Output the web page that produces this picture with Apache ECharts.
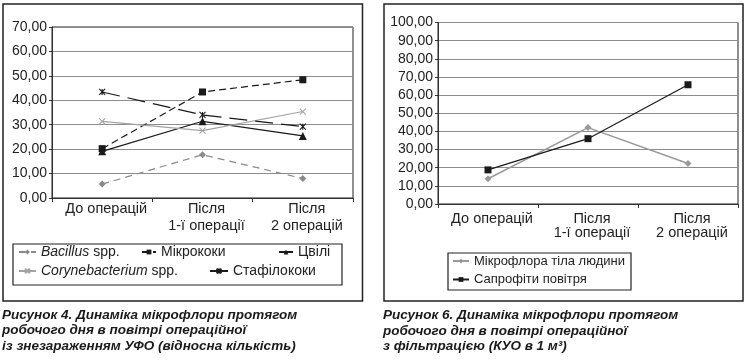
<!DOCTYPE html>
<html>
<head>
<meta charset="utf-8">
<script src="https://cdn.jsdelivr.net/npm/echarts@6/dist/echarts.min.js"></script>
<style>
html,body{margin:0;padding:0;background:#fff;}
#c{width:746px;height:361px;}
</style>
</head>
<body>
<div id="c"></div>
<script>
// ---- data ----
const categories = ['До операцій', 'Після\n1-ї операції', 'Після\n2 операцій'];
const bacillus = [5.7, 17.7, 8.0];
const mikrokoky = [20.2, 43.4, 48.4];
const tsvili = [19.1, 31.4, 25.4];
const corynebacterium = [31.4, 27.6, 35.4];
const stafilokoky = [43.4, 34.0, 29.2];
const humanFlora = [13.9, 42.1, 22.3];
const airSaprophytes = [18.8, 36.0, 65.7];
const leftYTicks = [0, 10, 20, 30, 40, 50, 60, 70];
const rightYTicks = [0, 10, 20, 30, 40, 50, 60, 70, 80, 90, 100];
const caption4 = 'Рисунок 4. Динаміка мікрофлори протягом\nробочого дня в повітрі операційної\nіз знезараженням УФО (відносна кількість)';
const caption6 = 'Рисунок 6. Динаміка мікрофлори протягом\nробочого дня в повітрі операційної\nз фільтрацією (КУО в 1 м³)';

const FONT = '"Liberation Sans", Arial, sans-serif';
const TXT = '#222';
const BLACK = '#1a1a1a';
const fmt = v => v.toFixed(2).replace('.', ',');
const X_PATH = 'path://M0,0L10,10M10,0L0,10';
const AST_PATH = 'path://M0,0L10,10M10,0L0,10M5,0L5,10';

const chart = echarts.init(document.getElementById('c'), null, {renderer: 'canvas'});

function yAxis(gi, ticks, size) {
  return {
    type: 'value', gridIndex: gi,
    min: ticks[0], max: ticks[ticks.length - 1], interval: ticks[1] - ticks[0],
    axisLine: {show: true, lineStyle: {color: '#333', width: 1}},
    axisTick: {show: true, length: 3, lineStyle: {color: '#333'}},
    axisLabel: {formatter: fmt, color: TXT, fontSize: size, fontFamily: FONT, margin: 5},
    splitLine: {show: true, lineStyle: {color: '#8c8c8c', width: 1}}
  };
}
function xAxis(gi, lh, margin) {
  return {
    type: 'category', gridIndex: gi, data: categories, boundaryGap: true,
    axisLine: {show: true, lineStyle: {color: '#333', width: 1}},
    axisTick: {show: true, length: 4, lineStyle: {color: '#333'}},
    axisLabel: {color: TXT, fontSize: 14.5, fontFamily: FONT, lineHeight: lh, margin: margin, padding: [0, 0, 0, 8], interval: 0}
  };
}

function legendItem(name, left, top, w, size) {
  return {
    data: [name], left: left, top: top, padding: 0,
    itemWidth: w, itemHeight: 6,
    textStyle: {color: TXT, fontSize: size, fontFamily: FONT,
      rich: {i: {fontStyle: 'italic', fontSize: size, fontFamily: FONT, color: TXT}}},
    formatter: function (n) {
      if (n === 'Bacillus spp.') return '{i|Bacillus} spp.';
      if (n === 'Corynebacterium spp.') return '{i|Corynebacterium} spp.';
      return n;
    }
  };
}

function line(name, gi, data, color, dash, symbol, size, width) {
  return {
    name: name, type: 'line', xAxisIndex: gi, yAxisIndex: gi, data: data,
    symbol: symbol, symbolSize: size,
    lineStyle: {color: color, width: width || 1.2, type: dash},
    itemStyle: {color: color, borderColor: color, borderWidth: (symbol.indexOf('path') === 0 ? 1.1 : 0)},
    emphasis: {disabled: true}
  };
}

const option = {
  animation: false,
  backgroundColor: '#fff',
  grid: [
    {left: 52, top: 27, right: 393, bottom: 163, show: true, borderColor: '#222', borderWidth: 1},
    {left: 438, top: 22.5, right: 8, bottom: 157, show: true, borderColor: '#222', borderWidth: 1}
  ],
  xAxis: [xAxis(0, 17, 2), xAxis(1, 14, 8)],
  yAxis: [yAxis(0, leftYTicks, 14), yAxis(1, rightYTicks, 14)],
  legend: [
    legendItem('Bacillus spp.', 18, 245, 17, 14),
    legendItem('Мікрококи', 141, 245, 14, 14),
    legendItem('Цвілі', 278, 245, 14, 14),
    legendItem('Corynebacterium spp.', 18, 264, 17, 14),
    legendItem('Стафілококи', 209, 264, 18, 14),
    legendItem('Мікрофлора тіла людини', 452, 254.5, 16, 13),
    legendItem('Сапрофіти повітря', 452, 273, 16, 13)
  ],
  series: [
    line('Bacillus spp.', 0, bacillus, '#8a8a8a', [7, 5], 'diamond', 7),
    line('Мікрококи', 0, mikrokoky, BLACK, [7, 4], 'rect', 7),
    line('Цвілі', 0, tsvili, BLACK, 'solid', 'triangle', 8),
    line('Corynebacterium spp.', 0, corynebacterium, '#a3a3a3', 'solid', X_PATH, 6),
    line('Стафілококи', 0, stafilokoky, BLACK, [18, 8], AST_PATH, 6),
    line('Мікрофлора тіла людини', 1, humanFlora, '#999999', 'solid', 'diamond', 7, 1.5),
    line('Сапрофіти повітря', 1, airSaprophytes, BLACK, 'solid', 'rect', 7)
  ],
  graphic: [
    {type: 'rect', shape: {x: 3, y: 4, width: 359.5, height: 297}, style: {fill: 'none', stroke: '#222', lineWidth: 1.5}, silent: true},
    {type: 'rect', shape: {x: 384, y: 4, width: 359, height: 297}, style: {fill: 'none', stroke: '#222', lineWidth: 1.5}, silent: true},
    {type: 'rect', shape: {x: 13, y: 244, width: 329, height: 41}, style: {fill: 'none', stroke: '#222', lineWidth: 1.2}, silent: true},
    {type: 'rect', shape: {x: 448, y: 253, width: 183, height: 37}, style: {fill: 'none', stroke: '#222', lineWidth: 1.2}, silent: true},
    {type: 'text', x: 2, y: 307.5, silent: true,
      style: {text: caption4, fill: '#1a1a1a', fontSize: 13.5, fontWeight: 'bold', fontStyle: 'italic', fontFamily: FONT, lineHeight: 15.5, verticalAlign: 'top'}},
    {type: 'text', x: 383, y: 308, silent: true,
      style: {text: caption6, fill: '#1a1a1a', fontSize: 13.5, fontWeight: 'bold', fontStyle: 'italic', fontFamily: FONT, lineHeight: 15.5, verticalAlign: 'top'}}
  ]
};
chart.setOption(option);
</script>
</body>
</html>
